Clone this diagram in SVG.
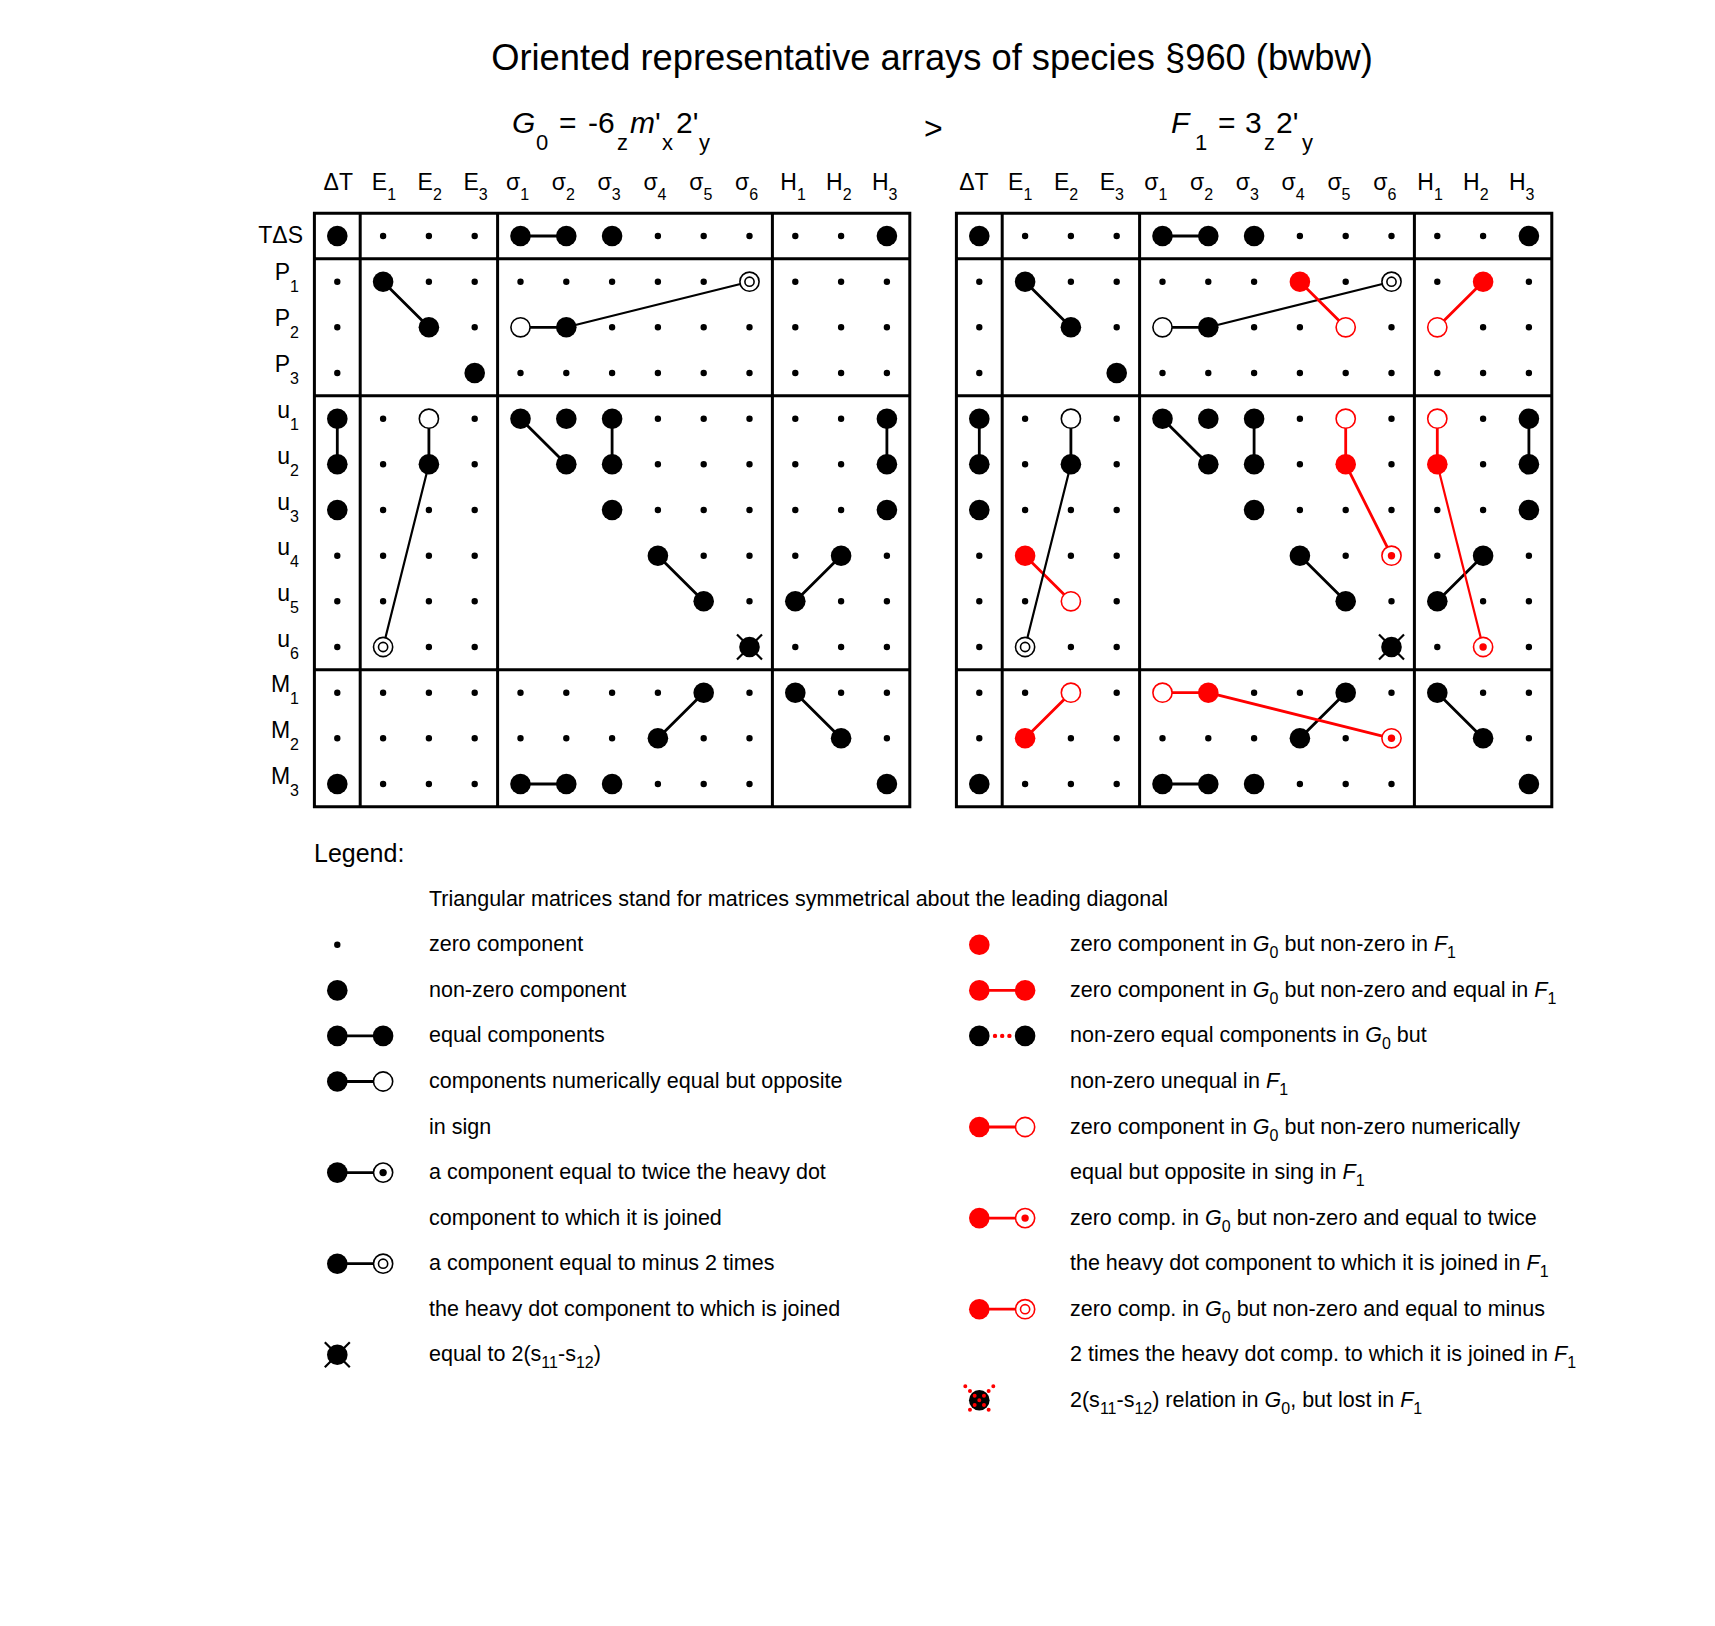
<svg xmlns="http://www.w3.org/2000/svg" xmlns:xlink="http://www.w3.org/1999/xlink" width="1715" height="1626" viewBox="0 0 1715 1626">
<style>
text{font-family:"Liberation Sans",Arial,Helvetica,sans-serif;fill:#000}
.hd{font-size:23px}
.lg{font-size:21.5px}
.s{font-size:16px}
.gl{fill:none;stroke:#000;stroke-width:3}
.dots{fill:none;stroke:#000;stroke-width:6.4;stroke-linecap:round}
.k{stroke:#000;stroke-width:2.8;fill:none}
.kt{stroke:#000;stroke-width:2.2;fill:none}
.r{stroke:#f00;stroke-width:2.8;fill:none}
.rt{stroke:#f00;stroke-width:2.2;fill:none}
</style>
<defs>
<circle id="d" r="3.2" fill="#000"/>
<circle id="B" r="10.3" fill="#000"/>
<circle id="O" r="9.6" fill="#fff" stroke="#000" stroke-width="1.6"/>
<g id="T"><circle r="9.6" fill="#fff" stroke="#000" stroke-width="1.6"/><circle r="3.7" fill="#000"/></g>
<g id="M"><circle r="9.6" fill="#fff" stroke="#000" stroke-width="1.6"/><circle r="4.6" fill="none" stroke="#000" stroke-width="1.6"/></g>
<g id="X"><path d="M-12.5-12.5L12.5 12.5M12.5-12.5L-12.5 12.5" stroke="#000" stroke-width="2.2"/><circle r="10.3" fill="#000"/></g>
<circle id="rB" r="10.3" fill="#f00"/>
<circle id="rO" r="9.6" fill="#fff" stroke="#f00" stroke-width="1.6"/>
<g id="rT"><circle r="9.6" fill="#fff" stroke="#f00" stroke-width="1.6"/><circle r="3.7" fill="#f00"/></g>
<g id="rM"><circle r="9.6" fill="#fff" stroke="#f00" stroke-width="1.6"/><circle r="4.6" fill="none" stroke="#f00" stroke-width="1.6"/></g>
<g id="rX"><circle r="10.3" fill="#000"/><path d="M-14-14L14 14M14-14L-14 14" stroke="#f00" stroke-width="4" stroke-linecap="round" stroke-dasharray="0 6.6"/></g>
</defs>

<g id="titles">
<text x="932" y="70" font-size="36.3" text-anchor="middle">Oriented representative arrays of species §960 (bwbw)</text>
<text font-size="30"><tspan x="512" y="133" font-style="italic">G</tspan><tspan x="536" y="150" font-size="22">0</tspan><tspan x="559" y="133">=</tspan><tspan x="588" y="133">-6</tspan><tspan x="617" y="150" font-size="22">z</tspan><tspan x="630" y="133" font-style="italic">m</tspan><tspan x="655" y="133">'</tspan><tspan x="662" y="150" font-size="22">x</tspan><tspan x="676" y="133">2'</tspan><tspan x="699" y="150" font-size="22">y</tspan></text>
<text x="924" y="139" font-size="32">&gt;</text>
<text font-size="30"><tspan x="1171" y="133" font-style="italic">F</tspan><tspan x="1195" y="150" font-size="22">1</tspan><tspan x="1218" y="133">=</tspan><tspan x="1245" y="133">3</tspan><tspan x="1264" y="150" font-size="22">z</tspan><tspan x="1276" y="133">2'</tspan><tspan x="1302" y="150" font-size="22">y</tspan></text>
</g>

<g id="headers" class="hd">
<text x="323.6" y="190">ΔT</text>
<text x="371.8" y="190">E<tspan dy="10" font-size="16">1</tspan></text>
<text x="417.6" y="190">E<tspan dy="10" font-size="16">2</tspan></text>
<text x="463.4" y="190">E<tspan dy="10" font-size="16">3</tspan></text>
<text x="506" y="190">σ<tspan dy="10" font-size="16">1</tspan></text>
<text x="551.8" y="190">σ<tspan dy="10" font-size="16">2</tspan></text>
<text x="597.6" y="190">σ<tspan dy="10" font-size="16">3</tspan></text>
<text x="643.4" y="190">σ<tspan dy="10" font-size="16">4</tspan></text>
<text x="689.2" y="190">σ<tspan dy="10" font-size="16">5</tspan></text>
<text x="735" y="190">σ<tspan dy="10" font-size="16">6</tspan></text>
<text x="780.3" y="190">H<tspan dy="10" font-size="16">1</tspan></text>
<text x="826.1" y="190">H<tspan dy="10" font-size="16">2</tspan></text>
<text x="871.9" y="190">H<tspan dy="10" font-size="16">3</tspan></text>
<text x="959.2" y="190">ΔT</text>
<text x="1008.1" y="190">E<tspan dy="10" font-size="16">1</tspan></text>
<text x="1053.9" y="190">E<tspan dy="10" font-size="16">2</tspan></text>
<text x="1099.7" y="190">E<tspan dy="10" font-size="16">3</tspan></text>
<text x="1144.2" y="190">σ<tspan dy="10" font-size="16">1</tspan></text>
<text x="1190" y="190">σ<tspan dy="10" font-size="16">2</tspan></text>
<text x="1235.8" y="190">σ<tspan dy="10" font-size="16">3</tspan></text>
<text x="1281.6" y="190">σ<tspan dy="10" font-size="16">4</tspan></text>
<text x="1327.4" y="190">σ<tspan dy="10" font-size="16">5</tspan></text>
<text x="1373.2" y="190">σ<tspan dy="10" font-size="16">6</tspan></text>
<text x="1417.3" y="190">H<tspan dy="10" font-size="16">1</tspan></text>
<text x="1463.1" y="190">H<tspan dy="10" font-size="16">2</tspan></text>
<text x="1508.9" y="190">H<tspan dy="10" font-size="16">3</tspan></text>
</g>

<g id="rowlabels" class="hd" text-anchor="end">
<text x="303" y="243">TΔS</text>
<text x="299" y="280.2">P<tspan dy="12" font-size="16">1</tspan></text>
<text x="299" y="325.8">P<tspan dy="12" font-size="16">2</tspan></text>
<text x="299" y="371.5">P<tspan dy="12" font-size="16">3</tspan></text>
<text x="299" y="418.2">u<tspan dy="12" font-size="16">1</tspan></text>
<text x="299" y="463.8">u<tspan dy="12" font-size="16">2</tspan></text>
<text x="299" y="509.5">u<tspan dy="12" font-size="16">3</tspan></text>
<text x="299" y="555.2">u<tspan dy="12" font-size="16">4</tspan></text>
<text x="299" y="600.8">u<tspan dy="12" font-size="16">5</tspan></text>
<text x="299" y="646.5">u<tspan dy="12" font-size="16">6</tspan></text>
<text x="299" y="692.2">M<tspan dy="12" font-size="16">1</tspan></text>
<text x="299" y="737.8">M<tspan dy="12" font-size="16">2</tspan></text>
<text x="299" y="783.5">M<tspan dy="12" font-size="16">3</tspan></text>
</g>

<!-- Left array G0 -->
<g id="arrayG0" transform="translate(337.3 236)">
<path class="gl" d="M-22.9-22.8H572.5V570.8H-22.9Z M22.9-22.8V570.8 M160.3-22.8V570.8 M435.1-22.8V570.8 M-22.9 22.8H572.5 M-22.9 159.8H572.5 M-22.9 433.8H572.5"/>
<g id="G0-links">
<path class="k" d="M183.2 0H229 M45.8 45.7L91.6 91.3 M183.2 91.3H229 M0 182.7V228.3 M91.6 182.7V228.3 M183.2 182.7L229 228.3 M274.8 182.7V228.3 M549.6 182.7V228.3 M320.6 319.7L366.4 365.3 M503.8 319.7L458 365.3 M366.4 456.7L320.6 502.3 M458 456.7L503.8 502.3 M183.2 548H229"/>
<path class="kt" d="M229 91.3L412.2 45.7 M91.6 228.3L45.8 411"/>
</g>
<g id="G0-nodes">
<path class="dots" d="M45.8 0h0M91.6 0h0M137.4 0h0M320.6 0h0M366.4 0h0M412.2 0h0M458 0h0M503.8 0h0
M0 45.7h0M91.6 45.7h0M137.4 45.7h0M183.2 45.7h0M229 45.7h0M274.8 45.7h0M320.6 45.7h0M366.4 45.7h0M458 45.7h0M503.8 45.7h0M549.6 45.7h0
M0 91.3h0M137.4 91.3h0M274.8 91.3h0M320.6 91.3h0M366.4 91.3h0M412.2 91.3h0M458 91.3h0M503.8 91.3h0M549.6 91.3h0
M0 137h0M183.2 137h0M229 137h0M274.8 137h0M320.6 137h0M366.4 137h0M412.2 137h0M458 137h0M503.8 137h0M549.6 137h0
M45.8 182.7h0M137.4 182.7h0M320.6 182.7h0M366.4 182.7h0M412.2 182.7h0M458 182.7h0M503.8 182.7h0
M45.8 228.3h0M137.4 228.3h0M320.6 228.3h0M366.4 228.3h0M412.2 228.3h0M458 228.3h0M503.8 228.3h0
M45.8 274h0M91.6 274h0M137.4 274h0M320.6 274h0M366.4 274h0M412.2 274h0M458 274h0M503.8 274h0
M0 319.7h0M45.8 319.7h0M91.6 319.7h0M137.4 319.7h0M366.4 319.7h0M412.2 319.7h0M458 319.7h0M549.6 319.7h0
M0 365.3h0M45.8 365.3h0M91.6 365.3h0M137.4 365.3h0M412.2 365.3h0M503.8 365.3h0M549.6 365.3h0
M0 411h0M91.6 411h0M137.4 411h0M458 411h0M503.8 411h0M549.6 411h0
M0 456.7h0M45.8 456.7h0M91.6 456.7h0M137.4 456.7h0M183.2 456.7h0M229 456.7h0M274.8 456.7h0M320.6 456.7h0M412.2 456.7h0M503.8 456.7h0M549.6 456.7h0
M0 502.3h0M45.8 502.3h0M91.6 502.3h0M137.4 502.3h0M183.2 502.3h0M229 502.3h0M274.8 502.3h0M366.4 502.3h0M412.2 502.3h0M549.6 502.3h0
M45.8 548h0M91.6 548h0M137.4 548h0M320.6 548h0M366.4 548h0M412.2 548h0"/>
<use href="#B" x="0" y="0"/><use href="#B" x="183.2" y="0"/><use href="#B" x="229" y="0"/><use href="#B" x="274.8" y="0"/><use href="#B" x="549.6" y="0"/>
<use href="#B" x="45.8" y="45.7"/><use href="#M" x="412.2" y="45.7"/>
<use href="#B" x="91.6" y="91.3"/><use href="#O" x="183.2" y="91.3"/><use href="#B" x="229" y="91.3"/>
<use href="#B" x="137.4" y="137"/>
<use href="#B" x="0" y="182.7"/><use href="#O" x="91.6" y="182.7"/><use href="#B" x="183.2" y="182.7"/><use href="#B" x="229" y="182.7"/><use href="#B" x="274.8" y="182.7"/><use href="#B" x="549.6" y="182.7"/>
<use href="#B" x="0" y="228.3"/><use href="#B" x="91.6" y="228.3"/><use href="#B" x="229" y="228.3"/><use href="#B" x="274.8" y="228.3"/><use href="#B" x="549.6" y="228.3"/>
<use href="#B" x="0" y="274"/><use href="#B" x="274.8" y="274"/><use href="#B" x="549.6" y="274"/>
<use href="#B" x="320.6" y="319.7"/><use href="#B" x="503.8" y="319.7"/>
<use href="#B" x="366.4" y="365.3"/><use href="#B" x="458" y="365.3"/>
<use href="#M" x="45.8" y="411"/><use href="#X" x="412.2" y="411"/>
<use href="#B" x="366.4" y="456.7"/><use href="#B" x="458" y="456.7"/>
<use href="#B" x="320.6" y="502.3"/><use href="#B" x="503.8" y="502.3"/>
<use href="#B" x="0" y="548"/><use href="#B" x="183.2" y="548"/><use href="#B" x="229" y="548"/><use href="#B" x="274.8" y="548"/><use href="#B" x="549.6" y="548"/>
</g>
</g>

<!-- Right array F1 -->
<g id="arrayF1" transform="translate(979.3 236)">
<path class="gl" d="M-22.9-22.8H572.5V570.8H-22.9Z M22.9-22.8V570.8 M160.3-22.8V570.8 M435.1-22.8V570.8 M-22.9 22.8H572.5 M-22.9 159.8H572.5 M-22.9 433.8H572.5"/>
<g id="F1-links">
<path class="k" d="M183.2 0H229 M45.8 45.7L91.6 91.3 M183.2 91.3H229 M0 182.7V228.3 M91.6 182.7V228.3 M183.2 182.7L229 228.3 M274.8 182.7V228.3 M549.6 182.7V228.3 M320.6 319.7L366.4 365.3 M503.8 319.7L458 365.3 M366.4 456.7L320.6 502.3 M458 456.7L503.8 502.3 M183.2 548H229"/>
<path class="r" d="M45.8 319.7L91.6 365.3"/>
<path class="kt" d="M229 91.3L412.2 45.7 M91.6 228.3L45.8 411"/>
<path class="r" d="M320.6 45.7L366.4 91.3 M503.8 45.7L458 91.3 M366.4 182.7V228.3 M366.4 228.3L412.2 319.7 M458 182.7V228.3 M91.6 456.7L45.8 502.3 M183.2 456.7H229 M229 456.7L412.2 502.3"/>
<path class="rt" d="M458 228.3L503.8 411"/>
</g>
<g id="F1-nodes">
<path class="dots" d="M45.8 0h0M91.6 0h0M137.4 0h0M320.6 0h0M366.4 0h0M412.2 0h0M458 0h0M503.8 0h0
M0 45.7h0M91.6 45.7h0M137.4 45.7h0M183.2 45.7h0M229 45.7h0M274.8 45.7h0M366.4 45.7h0M458 45.7h0M549.6 45.7h0
M0 91.3h0M137.4 91.3h0M274.8 91.3h0M320.6 91.3h0M412.2 91.3h0M503.8 91.3h0M549.6 91.3h0
M0 137h0M183.2 137h0M229 137h0M274.8 137h0M320.6 137h0M366.4 137h0M412.2 137h0M458 137h0M503.8 137h0M549.6 137h0
M45.8 182.7h0M137.4 182.7h0M320.6 182.7h0M412.2 182.7h0M503.8 182.7h0
M45.8 228.3h0M137.4 228.3h0M320.6 228.3h0M412.2 228.3h0M503.8 228.3h0
M45.8 274h0M91.6 274h0M137.4 274h0M320.6 274h0M366.4 274h0M412.2 274h0M458 274h0M503.8 274h0
M0 319.7h0M91.6 319.7h0M137.4 319.7h0M366.4 319.7h0M458 319.7h0M549.6 319.7h0
M0 365.3h0M45.8 365.3h0M137.4 365.3h0M412.2 365.3h0M503.8 365.3h0M549.6 365.3h0
M0 411h0M91.6 411h0M137.4 411h0M458 411h0M549.6 411h0
M0 456.7h0M45.8 456.7h0M137.4 456.7h0M274.8 456.7h0M320.6 456.7h0M412.2 456.7h0M503.8 456.7h0M549.6 456.7h0
M0 502.3h0M91.6 502.3h0M137.4 502.3h0M183.2 502.3h0M229 502.3h0M274.8 502.3h0M366.4 502.3h0M549.6 502.3h0
M45.8 548h0M91.6 548h0M137.4 548h0M320.6 548h0M366.4 548h0M412.2 548h0"/>
<use href="#B" x="0" y="0"/><use href="#B" x="183.2" y="0"/><use href="#B" x="229" y="0"/><use href="#B" x="274.8" y="0"/><use href="#B" x="549.6" y="0"/>
<use href="#B" x="45.8" y="45.7"/><use href="#rB" x="320.6" y="45.7"/><use href="#M" x="412.2" y="45.7"/><use href="#rB" x="503.8" y="45.7"/>
<use href="#B" x="91.6" y="91.3"/><use href="#O" x="183.2" y="91.3"/><use href="#B" x="229" y="91.3"/><use href="#rO" x="366.4" y="91.3"/><use href="#rO" x="458" y="91.3"/>
<use href="#B" x="137.4" y="137"/>
<use href="#B" x="0" y="182.7"/><use href="#O" x="91.6" y="182.7"/><use href="#B" x="183.2" y="182.7"/><use href="#B" x="229" y="182.7"/><use href="#B" x="274.8" y="182.7"/><use href="#rO" x="366.4" y="182.7"/><use href="#rO" x="458" y="182.7"/><use href="#B" x="549.6" y="182.7"/>
<use href="#B" x="0" y="228.3"/><use href="#B" x="91.6" y="228.3"/><use href="#B" x="229" y="228.3"/><use href="#B" x="274.8" y="228.3"/><use href="#rB" x="366.4" y="228.3"/><use href="#rB" x="458" y="228.3"/><use href="#B" x="549.6" y="228.3"/>
<use href="#B" x="0" y="274"/><use href="#B" x="274.8" y="274"/><use href="#B" x="549.6" y="274"/>
<use href="#rB" x="45.8" y="319.7"/><use href="#B" x="320.6" y="319.7"/><use href="#rT" x="412.2" y="319.7"/><use href="#B" x="503.8" y="319.7"/>
<use href="#rO" x="91.6" y="365.3"/><use href="#B" x="366.4" y="365.3"/><use href="#B" x="458" y="365.3"/>
<use href="#M" x="45.8" y="411"/><use href="#X" x="412.2" y="411"/><use href="#rT" x="503.8" y="411"/>
<use href="#rO" x="91.6" y="456.7"/><use href="#rO" x="183.2" y="456.7"/><use href="#rB" x="229" y="456.7"/><use href="#B" x="366.4" y="456.7"/><use href="#B" x="458" y="456.7"/>
<use href="#rB" x="45.8" y="502.3"/><use href="#B" x="320.6" y="502.3"/><use href="#rT" x="412.2" y="502.3"/><use href="#B" x="503.8" y="502.3"/>
<use href="#B" x="0" y="548"/><use href="#B" x="183.2" y="548"/><use href="#B" x="229" y="548"/><use href="#B" x="274.8" y="548"/><use href="#B" x="549.6" y="548"/>
</g>
</g>

<!-- Legend -->
<g id="legend">
<text x="314" y="862" font-size="25">Legend:</text>
<text class="lg" x="429" y="906">Triangular matrices stand for matrices symmetrical about the leading diagonal</text>
<g id="legend-links">
<path class="k" d="M337.3 1035.9H383.1 M337.3 1081.5H383.1 M337.3 1172.6H383.1 M337.3 1263.7H383.1"/>
<path class="r" d="M979.3 990.4H1025.1 M979.3 1127H1025.1 M979.3 1218.1H1025.1 M979.3 1309.2H1025.1"/>
</g>
<g id="legend-symbols">
<use href="#d" x="337.3" y="944.8"/>
<use href="#B" x="337.3" y="990.4"/>
<use href="#B" x="337.3" y="1035.9"/><use href="#B" x="383.1" y="1035.9"/>
<use href="#B" x="337.3" y="1081.5"/><use href="#O" x="383.1" y="1081.5"/>
<use href="#B" x="337.3" y="1172.6"/><use href="#T" x="383.1" y="1172.6"/>
<use href="#B" x="337.3" y="1263.7"/><use href="#M" x="383.1" y="1263.7"/>
<use href="#X" x="337.3" y="1354.8"/>
<use href="#rB" x="979.3" y="944.8"/>
<use href="#rB" x="979.3" y="990.4"/><use href="#rB" x="1025.1" y="990.4"/>
<use href="#B" x="979.3" y="1035.9"/><use href="#B" x="1025.1" y="1035.9"/>
<circle cx="995" cy="1035.9" r="2.2" fill="#f00"/><circle cx="1002.2" cy="1035.9" r="2.2" fill="#f00"/><circle cx="1009.4" cy="1035.9" r="2.2" fill="#f00"/>
<use href="#rB" x="979.3" y="1127"/><use href="#rO" x="1025.1" y="1127"/>
<use href="#rB" x="979.3" y="1218.1"/><use href="#rT" x="1025.1" y="1218.1"/>
<use href="#rB" x="979.3" y="1309.2"/><use href="#rM" x="1025.1" y="1309.2"/>
<use href="#rX" x="979.3" y="1400.3"/>
</g>
<g id="legend-text" class="lg">
<text x="429" y="951.3">zero component</text>
<text x="429" y="996.9">non-zero component</text>
<text x="429" y="1042.4">equal components</text>
<text x="429" y="1088">components numerically equal but opposite</text>
<text x="429" y="1133.5">in sign</text>
<text x="429" y="1179.1">a component equal to twice the heavy dot</text>
<text x="429" y="1224.6">component to which it is joined</text>
<text x="429" y="1270.2">a component equal to minus 2 times</text>
<text x="429" y="1315.7">the heavy dot component to which is joined</text>
<text x="429" y="1361.3">equal to 2(s<tspan class="s" dy="7">11</tspan><tspan dy="-7">-s</tspan><tspan class="s" dy="7">12</tspan><tspan dy="-7">)</tspan></text>

<text x="1070" y="951.3">zero component in <tspan font-style="italic">G</tspan><tspan class="s" dy="7">0</tspan><tspan dy="-7"> but non-zero in </tspan><tspan font-style="italic">F</tspan><tspan class="s" dy="7">1</tspan></text>
<text x="1070" y="996.9">zero component in <tspan font-style="italic">G</tspan><tspan class="s" dy="7">0</tspan><tspan dy="-7"> but non-zero and equal in </tspan><tspan font-style="italic">F</tspan><tspan class="s" dy="7">1</tspan></text>
<text x="1070" y="1042.4">non-zero equal components in <tspan font-style="italic">G</tspan><tspan class="s" dy="7">0</tspan><tspan dy="-7"> but</tspan></text>
<text x="1070" y="1088">non-zero unequal in <tspan font-style="italic">F</tspan><tspan class="s" dy="7">1</tspan></text>
<text x="1070" y="1133.5">zero component in <tspan font-style="italic">G</tspan><tspan class="s" dy="7">0</tspan><tspan dy="-7"> but non-zero numerically</tspan></text>
<text x="1070" y="1179.1">equal but opposite in sing in <tspan font-style="italic">F</tspan><tspan class="s" dy="7">1</tspan></text>
<text x="1070" y="1224.6">zero comp. in <tspan font-style="italic">G</tspan><tspan class="s" dy="7">0</tspan><tspan dy="-7"> but non-zero and equal to twice</tspan></text>
<text x="1070" y="1270.2">the heavy dot component to which it is joined in <tspan font-style="italic">F</tspan><tspan class="s" dy="7">1</tspan></text>
<text x="1070" y="1315.7">zero comp. in <tspan font-style="italic">G</tspan><tspan class="s" dy="7">0</tspan><tspan dy="-7"> but non-zero and equal to minus</tspan></text>
<text x="1070" y="1361.3">2 times the heavy dot comp. to which it is joined in <tspan font-style="italic">F</tspan><tspan class="s" dy="7">1</tspan></text>
<text x="1070" y="1406.8">2(s<tspan class="s" dy="7">11</tspan><tspan dy="-7">-s</tspan><tspan class="s" dy="7">12</tspan><tspan dy="-7">) relation in </tspan><tspan font-style="italic">G</tspan><tspan class="s" dy="7">0</tspan><tspan dy="-7">, but lost in </tspan><tspan font-style="italic">F</tspan><tspan class="s" dy="7">1</tspan></text>
</g>
</g>
</svg>
